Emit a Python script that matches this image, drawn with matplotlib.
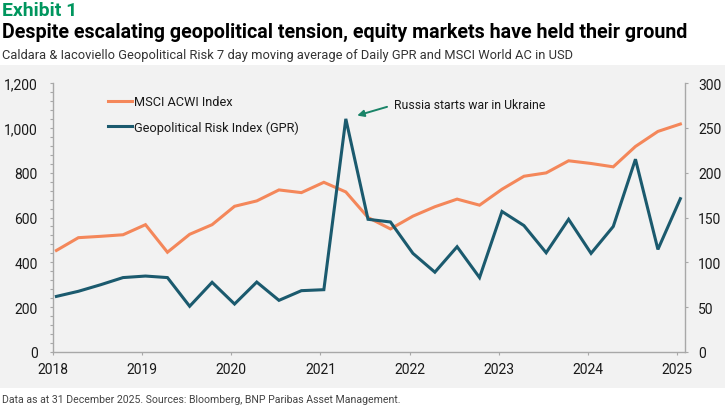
import matplotlib
matplotlib.use("Agg")
import matplotlib.pyplot as plt
import datetime as dt
import matplotlib.dates as mdates
from matplotlib import font_manager
from matplotlib.ticker import MultipleLocator, FuncFormatter
from matplotlib.patches import Rectangle

# ---------------- data ----------------
dates = [
    "2018-01-15", "2018-04-15", "2018-07-15", "2018-10-15",
    "2019-01-15", "2019-04-15", "2019-07-15", "2019-10-15",
    "2020-01-15", "2020-04-15", "2020-07-15", "2020-10-15",
    "2021-01-15", "2021-04-15", "2021-07-15", "2021-10-15",
    "2022-01-15", "2022-04-15", "2022-07-15", "2022-10-15",
    "2023-01-15", "2023-04-15", "2023-07-15", "2023-10-15",
    "2024-01-15", "2024-04-15", "2024-07-15", "2024-10-15",
    "2025-01-15",
]
msci = [453, 510, 516, 523, 568, 445, 525, 568, 650, 674, 723, 711, 757, 714,
        600, 549, 606, 648, 682, 655, 726, 784, 799, 853, 841, 826, 917, 984, 1017]
gpr = [62, 67.7, 75, 83, 84.7, 83, 51, 77.7, 53.5, 78, 57.6, 68.4, 69.5, 260,
       148, 145, 110, 89, 117.4, 83, 156.7, 141, 110.7, 148, 110, 140, 215, 114.4, 171]
msci_label = "MSCI ACWI Index"
gpr_label = "Geopolitical Risk Index (GPR)"
annotation_text = "Russia starts war in Ukraine"
exhibit = "Exhibit 1"
title = "Despite escalating geopolitical tension, equity markets have held their ground"
subtitle = "Caldara & Iacoviello Geopolitical Risk 7 day moving average of Daily GPR and MSCI World AC in USD"
footer = "Data as at 31 December 2025. Sources: Bloomberg, BNP Paribas Asset Management."

# ---------------- style ----------------
names = {f.name for f in font_manager.fontManager.ttflist}
FAM = "Liberation Sans Narrow" if "Liberation Sans Narrow" in names else "Roboto"
plt.rcParams["font.family"] = [FAM, "DejaVu Sans"]

ORANGE = "#f4875a"
TEAL = "#1b5a6e"
GREEN = "#00965e"
ARROW = "#1a8468"
SPINE = "#a8a8a8"
BAND = "#f2f2f2"
TXT = "#1a1a1a"

W, H = 725, 406
fig = plt.figure(figsize=(W / 100, H / 100), dpi=100)
fig.patch.set_facecolor("white")
fig.canvas.draw()
R = fig.canvas.get_renderer()


def fx(px):
    return px / W


def fy(py):
    return 1 - py / H


def fit_size(s, target, weight="normal", fs0=10.0):
    t = fig.text(0, 0, s, fontsize=fs0, weight=weight)
    w = t.get_window_extent(R).width
    t.remove()
    return fs0 * target / w


fig.patches.append(Rectangle((0, fy(389)), 1, (389 - 66) / H, transform=fig.transFigure,
                             facecolor=BAND, edgecolor="none", zorder=-10))

# header / footer text
fig.text(fx(2), fy(16.5), exhibit, color=GREEN, weight="bold", va="baseline",
         fontsize=fit_size(exhibit, 76, "bold"))
fig.text(fx(2), fy(37.7), title, color="black", weight="bold", va="baseline",
         fontsize=fit_size(title, 690, "bold"))
fig.text(fx(2), fy(59.3), subtitle, color="#333333", va="baseline",
         fontsize=fit_size(subtitle, 571))
fig.text(fx(2), fy(403.5), footer, color="#444444", va="baseline",
         fontsize=fit_size(footer, 400))

# ---------------- axes ----------------
ax = fig.add_axes([fx(53), fy(353), (685 - 53) / W, (353 - 84) / H])
ax.set_facecolor("none")
ax2 = ax.twinx()
ax2.set_facecolor("none")

x = [dt.datetime.strptime(d, "%Y-%m-%d") for d in dates]
l1, = ax.plot(x, msci, color=ORANGE, lw=2.2, label=msci_label, solid_joinstyle="miter")
l2, = ax2.plot(x, gpr, color=TEAL, lw=2.2, label=gpr_label, solid_joinstyle="miter")

ax.set_xlim(dt.datetime(2018, 1, 1), dt.datetime(2025, 2, 3))
ax.set_ylim(0, 1200)
ax2.set_ylim(0, 300)

ax.xaxis.set_major_locator(mdates.YearLocator())
ax.xaxis.set_major_formatter(mdates.DateFormatter("%Y"))
ax.yaxis.set_major_locator(MultipleLocator(200))
ax.yaxis.set_minor_locator(MultipleLocator(40))
ax.yaxis.set_major_formatter(FuncFormatter(lambda v, p: f"{int(v):,}"))
ax2.yaxis.set_major_locator(MultipleLocator(50))

tfs = fit_size("2021", 31)
for a in (ax, ax2):
    for s in a.spines.values():
        s.set_color(SPINE)
        s.set_linewidth(1.0)
    a.spines["top"].set_visible(False)
ax.spines["right"].set_visible(False)
ax2.spines["left"].set_visible(False)
ax2.spines["bottom"].set_visible(False)

ax.tick_params(axis="x", which="major", length=2.5, width=0.8, color=SPINE,
               labelsize=tfs, labelcolor=TXT, pad=4.5)
ax.tick_params(axis="y", which="major", length=2.5, width=0.8, color=SPINE,
               labelsize=tfs, labelcolor=TXT, pad=8.5)
ax.tick_params(axis="y", which="minor", length=2.0, width=0.8, color=SPINE)
ax2.tick_params(axis="y", which="major", length=2.5, width=0.8, color=SPINE,
                labelsize=tfs, labelcolor=TXT, pad=7)

# annotation at GPR peak
pk = max(range(len(gpr)), key=lambda i: gpr[i])
afs = fit_size(annotation_text, 151)
ax2.annotate(annotation_text, xy=(x[pk], gpr[pk]), xycoords="data",
             xytext=(48, 14), textcoords="offset pixels", ha="left", va="center",
             fontsize=afs, color=TXT,
             arrowprops=dict(arrowstyle="-|>,head_length=0.45,head_width=0.22",
                             color=ARROW, lw=1.4, shrinkA=3, shrinkB=8.5,
                             relpos=(0, 0.5)))

# legend
lfs = fit_size(msci_label, 99)
spx = lfs * 100 / 72
leg_kw = dict(loc="upper left", bbox_transform=fig.transFigure, frameon=False,
              fontsize=lfs, handlelength=24 / spx, handletextpad=2 / spx,
              borderpad=0, borderaxespad=0)
ls = 0.8
anchor = [fx(108), fy(92)]
leg = ax2.legend(handles=[l1, l2], bbox_to_anchor=tuple(anchor), labelspacing=ls, **leg_kw)
fig.canvas.draw()
b1 = leg.get_texts()[0].get_window_extent(R)
b2 = leg.get_texts()[1].get_window_extent(R)
d = (b1.y0 + b1.y1) / 2 - (b2.y0 + b2.y1) / 2
ls += (25 - d) / spx
leg.remove()
leg = ax2.legend(handles=[l1, l2], bbox_to_anchor=tuple(anchor), labelspacing=ls, **leg_kw)
fig.canvas.draw()
b1 = leg.get_texts()[0].get_window_extent(R)
dx = 134 - b1.x0
dy = (H - 103) - (b1.y0 + b1.y1) / 2
anchor = [anchor[0] + dx / W, anchor[1] + dy / H]
leg.remove()
leg = ax2.legend(handles=[l1, l2], bbox_to_anchor=tuple(anchor), labelspacing=ls, **leg_kw)
for t in leg.get_texts():
    t.set_color(TXT)

fig.savefig("out.png", dpi=100, facecolor="white")
